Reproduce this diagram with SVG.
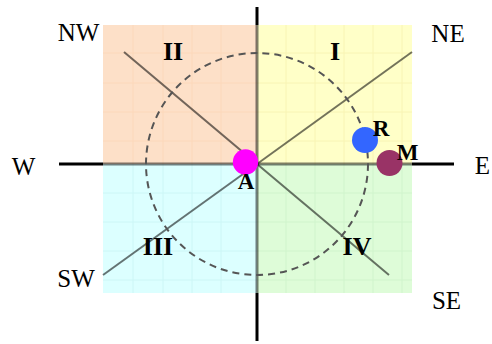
<svg xmlns="http://www.w3.org/2000/svg" width="492" height="344" viewBox="0 0 492 344">
  <style>
    .compass { font-family: "Liberation Serif", "Times New Roman", serif; font-size: 25px; fill: #000; text-anchor: middle; }
    .quad { font-family: "Liberation Serif", "Times New Roman", serif; font-size: 26px; font-weight: bold; fill: #000; text-anchor: middle; }
    .pt { font-family: "Liberation Serif", "Times New Roman", serif; font-size: 23px; font-weight: bold; fill: #000; text-anchor: middle; }
    .axis { stroke: #000; stroke-width: 3; }
    .axisin { stroke: #000; stroke-opacity: 0.5; stroke-width: 3; }
    .diag { stroke: #000; stroke-opacity: 0.55; stroke-width: 2; }
    .grid { stroke-width: 1; }
  </style>
  <rect width="492" height="344" fill="#fff"/>
  <g id="quadrants">
    <rect x="103" y="25" width="154" height="139" fill="#fde0c8"/>
    <rect x="257" y="25" width="155" height="139" fill="#ffffc8"/>
    <rect x="103" y="164" width="154" height="129" fill="#dcffff"/>
    <rect x="257" y="164" width="155" height="129" fill="#defcd8"/>
    <g class="grid" stroke="#fcd8ba">
      <path d="M133 25V164M163 25V164M192 25V164M221 25V164M103 53H257M103 83H257M103 112H257M103 141H257"/>
    </g>
    <g class="grid" stroke="#f8f4b4">
      <path d="M286 25V164M315 25V164M344 25V164M373 25V164M402 25V164M257 53H412M257 83H412M257 112H412M257 141H412"/>
    </g>
    <g class="grid" stroke="#ccf6f6">
      <path d="M133 164V293M163 164V293M192 164V293M221 164V293M103 193H257M103 222H257M103 251H257M103 280H257"/>
    </g>
    <g class="grid" stroke="#d0f4cc">
      <path d="M286 164V293M315 164V293M344 164V293M373 164V293M402 164V293M257 193H412M257 222H412M257 251H412M257 280H412"/>
    </g>
  </g>
  <g id="connectors" fill="none">
    <line class="axis" x1="59" y1="164" x2="103" y2="164"/>
    <line class="axis" x1="412" y1="164" x2="454" y2="164"/>
    <line class="axis" x1="257" y1="7" x2="257" y2="25"/>
    <line class="axis" x1="257" y1="293" x2="257" y2="341"/>
    <line class="axisin" x1="103" y1="164" x2="412" y2="164"/>
    <line class="axisin" x1="257" y1="25" x2="257" y2="293"/>
    <line class="diag" x1="124" y1="52" x2="257" y2="164"/>
    <line class="diag" x1="257" y1="164" x2="412" y2="52"/>
    <line class="diag" x1="103" y1="275" x2="257" y2="164"/>
    <line class="diag" x1="257" y1="164" x2="389" y2="275"/>
    <circle cx="257" cy="164" r="111" stroke="#555" stroke-width="2" stroke-dasharray="7 5"/>
  </g>
  <g id="labels">
    <text class="compass" x="78.5" y="41">NW</text>
    <text class="compass" x="448" y="42">NE</text>
    <text class="compass" x="23.5" y="175">W</text>
    <text class="compass" x="482.5" y="174">E</text>
    <text class="compass" x="76" y="287">SW</text>
    <text class="compass" x="446.5" y="309">SE</text>
    <text class="quad" x="335" y="60">I</text>
    <text class="quad" x="173" y="60">II</text>
    <text class="quad" x="158" y="255">III</text>
    <text class="quad" x="357" y="255">IV</text>
  </g>
  <g id="A">
    <circle cx="245.5" cy="162" r="12.7" fill="#ff00ff"/>
    <text class="pt" x="246" y="189">A</text>
  </g>
  <g id="R">
    <circle cx="365" cy="140" r="13" fill="#3366ff"/>
    <text class="pt" x="381" y="136">R</text>
  </g>
  <g id="M">
    <circle cx="389.5" cy="163" r="13" fill="#993366"/>
    <text class="pt" x="407.5" y="160">M</text>
  </g>
</svg>
